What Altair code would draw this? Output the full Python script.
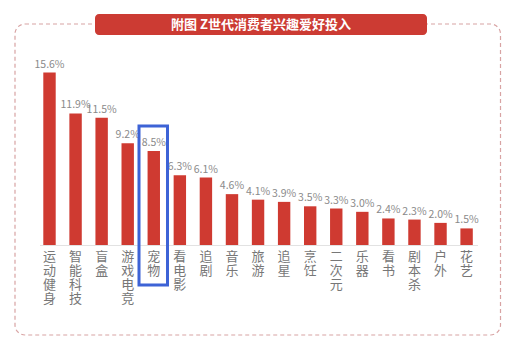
import altair as alt
import pandas as pd

categories = ["运动健身", "智能科技", "盲盒", "游戏电竞", "宠物", "看电影", "追剧", "音乐",
              "旅游", "追星", "烹饪", "二次元", "乐器", "看书", "剧本杀", "户外", "花艺"]
values = [15.6, 11.9, 11.5, 9.2, 8.5, 6.3, 6.1, 4.6, 4.1, 3.9, 3.5, 3.3, 3.0, 2.4, 2.3, 2.0, 1.5]
title_text = "附图 Z世代消费者兴趣爱好投入"
highlight = "宠物"

df = pd.DataFrame({
    "cat": categories,
    "value": values,
    "vlabel": [f"{v:.1f}%" for v in values],
    "clabel": ["\n".join(list(c)) for c in categories],
})

FONT = "Noto Sans CJK SC"

x_enc = alt.X("cat:N", sort=categories, axis=None,
              scale=alt.Scale(range=[43.3, 472.8], paddingInner=0.524, paddingOuter=0))
y_enc = alt.Y("value:Q", axis=None, scale=alt.Scale(domain=[0, 15.6], range=[245, 72.5]))

base = alt.Chart(df)

border = alt.Chart(pd.DataFrame({"a": [0]})).mark_rect(
    fill="transparent", stroke="#d8a3a3", strokeDash=[4, 3], strokeWidth=1.2, cornerRadius=10
).encode(x=alt.value(15), x2=alt.value(500.5), y=alt.value(24), y2=alt.value(335))

banner = alt.Chart(pd.DataFrame({"a": [0]})).mark_rect(
    fill="#cc3b33", cornerRadius=4
).encode(x=alt.value(95), x2=alt.value(427), y=alt.value(14), y2=alt.value(35))

banner_text = alt.Chart(pd.DataFrame({"t": [title_text]})).mark_text(
    color="white", fontSize=13, font=FONT, fontWeight="bold", baseline="middle", align="center"
).encode(x=alt.value(261), y=alt.value(24.5), text="t:N")

baseline_rule = alt.Chart(pd.DataFrame({"a": [0]})).mark_rule(
    color="#e2e2e2", strokeWidth=1
).encode(x=alt.value(40), x2=alt.value(478), y=alt.value(245.5))

bars = base.mark_bar(color="#cf3a31").encode(x=x_enc, y=y_enc, y2=alt.datum(0))

vlabels = base.mark_text(
    color="#8a8a8a", fontSize=10.5, font=FONT, dy=-5, baseline="alphabetic", align="center"
).encode(x=x_enc, y=y_enc, text="vlabel:N")

clabels = base.mark_text(
    color="#777777", fontSize=13, font=FONT, baseline="top", align="center",
    lineBreak="\n", lineHeight=14.3
).encode(x=x_enc, y=alt.value(250.5), text="clabel:N")

hl = alt.Chart(pd.DataFrame({"a": [highlight]})).mark_rect(
    fill="transparent", stroke="#3d63d6", strokeWidth=3
).encode(x=alt.value(139), x2=alt.value(167.5), y=alt.value(126), y2=alt.value(285))

chart = alt.layer(border, banner, banner_text, baseline_rule, bars, vlabels, clabels, hl).properties(
    width=521, height=351, autosize=alt.AutoSizeParams(type="none"), padding=0,
    background="white"
).configure_view(stroke=None)

chart.save("out.html", embed_options={"renderer": "svg", "actions": False})
